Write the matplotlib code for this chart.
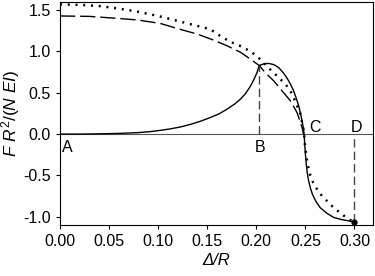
import matplotlib
matplotlib.use('Agg')
import matplotlib.pyplot as plt

plt.rcParams['font.family'] = ['Liberation Sans', 'DejaVu Sans']
plt.rcParams['mathtext.fontset'] = 'custom'
plt.rcParams['mathtext.rm'] = 'Liberation Sans'
plt.rcParams['mathtext.it'] = 'Liberation Sans:italic'

# solid curve
solid_x = [0.0, 0.02, 0.04, 0.06, 0.08, 0.092, 0.102, 0.112, 0.123, 0.133,
           0.143, 0.153, 0.162, 0.170, 0.178, 0.184, 0.189, 0.194, 0.1975,
           0.2007, 0.203, 0.2075, 0.2126, 0.218,
           0.2228, 0.227, 0.231, 0.235, 0.238, 0.2405, 0.2432, 0.245,
           0.2466, 0.2478, 0.2487, 0.2493, 0.2500, 0.2508, 0.2518, 0.2532,
           0.2550, 0.2572, 0.2605, 0.265, 0.272, 0.279, 0.287, 0.294, 0.300]
solid_y = [0.0, 0.0, 0.003, 0.008, 0.018, 0.03, 0.045, 0.062, 0.087, 0.118,
           0.155, 0.20, 0.245, 0.30, 0.365, 0.425, 0.49, 0.58, 0.66,
           0.745, 0.83, 0.85, 0.856, 0.84,
           0.805, 0.75, 0.684, 0.60, 0.524, 0.44, 0.342, 0.25,
           0.161, 0.08, 0.0, -0.12, -0.24, -0.35, -0.46, -0.56,
           -0.65, -0.73, -0.81, -0.89, -0.96, -1.01, -1.035, -1.05, -1.067]

# dotted curve
dot_x = [0.0, 0.02, 0.04, 0.06, 0.08, 0.10, 0.12, 0.133, 0.153, 0.163,
         0.173, 0.185, 0.1956, 0.204, 0.2126, 0.2228, 0.2296, 0.2347,
         0.238, 0.2415, 0.245, 0.2466, 0.248, 0.2487, 0.249, 0.250, 0.251,
         0.253, 0.255, 0.258, 0.263, 0.267, 0.272, 0.277, 0.282, 0.287,
         0.294, 0.300]
dot_y = [1.57, 1.565, 1.55, 1.52, 1.48, 1.43, 1.37, 1.33, 1.27, 1.19,
         1.12, 1.06, 0.99, 0.905, 0.80, 0.685, 0.605, 0.524,
         0.443, 0.343, 0.242, 0.14, 0.06, 0.0, -0.08, -0.17, -0.28,
         -0.40, -0.50, -0.59, -0.69, -0.75, -0.81, -0.87, -0.92, -0.97,
         -1.03, -1.067]

# dashed curve
dash_x = [0.0, 0.03, 0.06, 0.08, 0.102, 0.122, 0.14, 0.156, 0.17, 0.184,
          0.194, 0.203, 0.209, 0.2177, 0.2262, 0.2347, 0.2415, 0.2466, 0.248]
dash_y = [1.43, 1.425, 1.40, 1.38, 1.34, 1.27, 1.21, 1.14, 1.07, 0.99,
          0.907, 0.83, 0.745, 0.645, 0.524, 0.403, 0.26, 0.08, 0.0]

# vertical markers at B and D
vline_x = [0.203, 0.300]
vline_top = [0.83, 0.0]
vline_bot = [0.0, -1.067]

labels = ['A', 'B', 'C', 'D']
label_x = [0.002, 0.198, 0.2535, 0.2965]
label_y = [-0.16, -0.16, 0.08, 0.08]

fig = plt.figure(figsize=(3.75, 2.76), dpi=100)
ax = fig.add_axes([0.16, 0.185, 0.835, 0.808])

ax.axhline(0, color='#555555', lw=0.8)
ax.plot(solid_x, solid_y, '-', color='black', lw=1.0)
ax.plot(dot_x, dot_y, ':', color='black', lw=1.8, dashes=(0.8, 2.3))
ax.plot(dash_x, dash_y, '--', color='black', lw=1.0, dashes=(11, 3.5))
for xv, y0, y1 in zip(vline_x, vline_bot, vline_top):
    ax.plot([xv, xv], [y0, y1], color='#444444', lw=1.0, dashes=(6, 3))
ax.plot([solid_x[-1]], [solid_y[-1]], 'o', color='black', ms=3.5)

for t, xx, yy in zip(labels, label_x, label_y):
    ax.text(xx, yy, t, fontsize=11.5, va='center', ha='left')

ax.set_xlim(0, 0.319)
ax.set_ylim(-1.1, 1.6)
ax.set_xticks([0.0, 0.05, 0.10, 0.15, 0.20, 0.25, 0.30])
ax.set_xticklabels(['0.00', '0.05', '0.10', '0.15', '0.20', '0.25', '0.30'])
ax.set_yticks([-1.0, -0.5, 0.0, 0.5, 1.0, 1.5])
ax.set_yticklabels(['-1.0', '-0.5', '0.0', '0.5', '1.0', '1.5'])
ax.tick_params(labelsize=11.5, direction='out', length=3)
ax.set_xlabel('Δ/R', fontsize=12, style='italic', labelpad=3)
ax.set_ylabel(r'$F\ R^2/(N\ EI)$', fontsize=12.5, labelpad=1)

fig.savefig('out.png', dpi=100)
